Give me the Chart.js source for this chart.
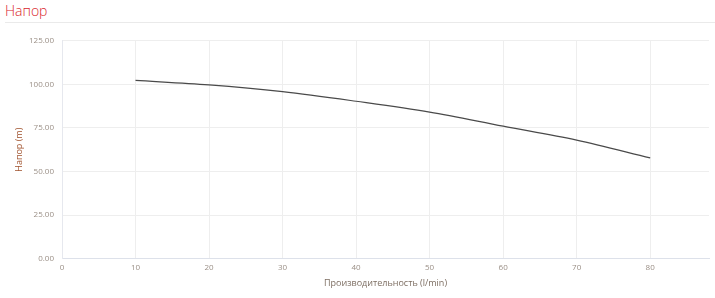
<!DOCTYPE html>
<html>
<head>
<meta charset="utf-8">
<script src="https://cdn.jsdelivr.net/npm/chart.js@4"></script>
<style>
  html, body { margin: 0; padding: 0; background: #fff; }
  body { width: 715px; height: 298px; position: relative; overflow: hidden; font-family: "Open Sans", sans-serif; }
  .title { position: absolute; left: 5px; top: 1px; font-size: 14px; color: #d9262c; font-weight: 300; }
  .rule { position: absolute; left: 5px; right: 0; top: 22px; height: 1px; background: #eaeaea; }
  .wrap { position: absolute; left: 0; top: 28px; width: 715px; height: 270px; }
</style>
</head>
<body>
<div class="title">Напор</div>
<div class="rule"></div>
<div class="wrap"><canvas id="headChart"></canvas></div>
<script>
  // Flow (l/min) and head (m)
  const flowValues = [10, 20, 30, 40, 50, 60, 70, 80];
  const headValues = [102.3, 99.7, 95.8, 90.3, 84.1, 76.0, 68.0, 57.8];
  const xTicks = [0, 10, 20, 30, 40, 50, 60, 70, 80];
  const yTicks = [0, 25, 50, 75, 100, 125];

  const points = flowValues.map((x, i) => ({ x: x, y: headValues[i] }));

  const ctx = document.getElementById('headChart').getContext('2d');
  new Chart(ctx, {
    type: 'line',
    data: {
      datasets: [{
        label: 'Напор',
        data: points,
        borderColor: '#4a4a4a',
        borderWidth: 1.2,
        pointRadius: 0,
        fill: false,
        cubicInterpolationMode: 'monotone'
      }]
    },
    options: {
      responsive: true,
      maintainAspectRatio: false,
      animation: false,
      layout: { padding: { left: 14, right: 6, top: 3, bottom: 9 } },
      plugins: {
        legend: { display: false },
        tooltip: { enabled: false }
      },
      scales: {
        x: {
          type: 'linear',
          min: 0,
          max: 88,
          afterBuildTicks: function (axis) {
            axis.ticks = xTicks.map(v => ({ value: v }));
          },
          grid: { color: '#eeeeee', drawTicks: false },
          border: { color: '#dde1ea' },
          ticks: {
            color: '#9a8f86',
            font: { family: 'Open Sans', size: 8 },
            padding: 4
          },
          title: {
            display: true,
            text: 'Производительность (l/min)',
            color: '#7d6e62',
            font: { family: 'Open Sans', size: 9 },
            padding: { top: 2, bottom: 0 }
          }
        },
        y: {
          min: 0,
          max: 125,
          afterBuildTicks: function (axis) {
            axis.ticks = yTicks.map(v => ({ value: v }));
          },
          afterFit: function (axis) {
            axis.width = 48;
          },
          grid: { color: '#eeeeee', drawTicks: false },
          border: { color: '#e6e8ee' },
          ticks: {
            color: '#9a8f86',
            font: { family: 'Open Sans', size: 8 },
            padding: 8,
            callback: function (v) { return Number(v).toFixed(2); }
          },
          title: {
            display: true,
            text: 'Напор (m)',
            color: '#a0522d',
            font: { family: 'Open Sans', size: 9 },
            padding: { top: 0, bottom: 0 }
          }
        }
      }
    }
  });
</script>
</body>
</html>
